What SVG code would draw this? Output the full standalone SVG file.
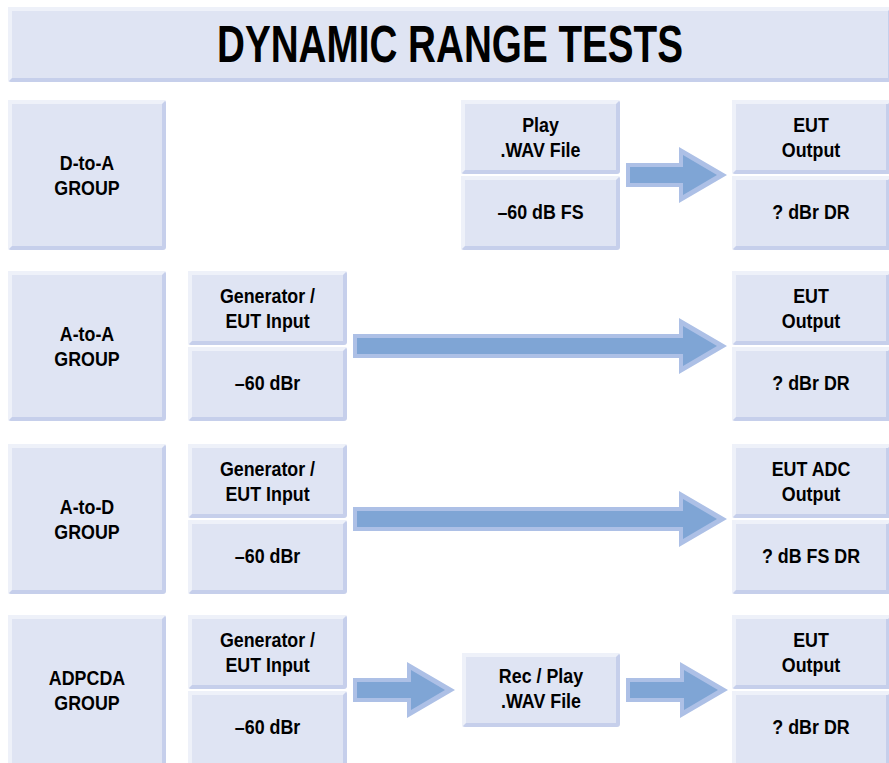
<svg xmlns="http://www.w3.org/2000/svg" width="889" height="763" viewBox="0 0 889 763">
<style>
.dk{fill:#c6cfeb}
.lt{fill:#eef1f9}
.fc{fill:#dfe4f3}
.ao{fill:#adc0e6}
.ai{fill:#7fa5d5}
text{font-family:"Liberation Sans",Arial,sans-serif;font-weight:bold;fill:#000;text-anchor:middle;font-size:21px}
.title{font-size:51px}
</style>
<rect width="889" height="763" fill="#fff"/>
<g id="title">
<rect class="dk" x="8" y="7" width="884" height="75" rx="3"/>
<path class="lt" d="M8,82 L8,7 L892,7 L888,11 L12,11 L12,78 Z"/>
<rect class="fc" x="12" y="11" width="876" height="67"/>
<text class="title" x="450" y="62" textLength="466" lengthAdjust="spacingAndGlyphs">DYNAMIC RANGE TESTS</text>
</g>

<!-- Row 1 -->
<g id="grp-da">
<rect class="dk" x="8" y="100" width="158" height="150" rx="3"/>
<path class="lt" d="M8,250 L8,100 L166,100 L162,104 L12,104 L12,246 Z"/>
<rect class="fc" x="12" y="104" width="150" height="142"/>
<text transform="translate(87,170) scale(0.85,1)">D-to-A</text><text transform="translate(87,195) scale(0.85,1)">GROUP</text>
</g>
<g id="play-wav">
<rect class="dk" x="461" y="100" width="159" height="74" rx="3"/>
<path class="lt" d="M461,174 L461,100 L620,100 L616,104 L465,104 L465,170 Z"/>
<rect class="fc" x="465" y="104" width="151" height="66"/>
<text transform="translate(540.5,132) scale(0.85,1)">Play</text><text transform="translate(540.5,157) scale(0.85,1)">.WAV File</text>
</g>
<g id="play-level">
<rect class="dk" x="461" y="176" width="159" height="74" rx="3"/>
<path class="lt" d="M461,250 L461,176 L620,176 L616,180 L465,180 L465,246 Z"/>
<rect class="fc" x="465" y="180" width="151" height="66"/>
<text transform="translate(540.5,219) scale(0.85,1)">–60 dB FS</text>
</g>
<g id="eut-out-1">
<rect class="dk" x="732" y="100" width="160" height="74" rx="3"/>
<path class="lt" d="M732,174 L732,100 L892,100 L888,104 L736,104 L736,170 Z"/>
<rect class="fc" x="736" y="104" width="150" height="66"/>
<text transform="translate(811,132) scale(0.85,1)">EUT</text><text transform="translate(811,157) scale(0.85,1)">Output</text>
</g>
<g id="eut-res-1">
<rect class="dk" x="732" y="176" width="160" height="74" rx="3"/>
<path class="lt" d="M732,250 L732,176 L892,176 L888,180 L736,180 L736,246 Z"/>
<rect class="fc" x="736" y="180" width="150" height="66"/>
<text transform="translate(811,219) scale(0.85,1)">? dBr DR</text>
</g>

<!-- Row 2 -->
<g id="grp-aa">
<rect class="dk" x="8" y="271" width="158" height="150" rx="3"/>
<path class="lt" d="M8,421 L8,271 L166,271 L162,275 L12,275 L12,417 Z"/>
<rect class="fc" x="12" y="275" width="150" height="142"/>
<text transform="translate(87,341) scale(0.85,1)">A-to-A</text><text transform="translate(87,366) scale(0.85,1)">GROUP</text>
</g>
<g id="gen-2">
<rect class="dk" x="188" y="271" width="159" height="74" rx="3"/>
<path class="lt" d="M188,345 L188,271 L347,271 L343,275 L192,275 L192,341 Z"/>
<rect class="fc" x="192" y="275" width="151" height="66"/>
<text transform="translate(267.5,303) scale(0.85,1)">Generator /</text><text transform="translate(267.5,328) scale(0.85,1)">EUT Input</text>
</g>
<g id="gen-level-2">
<rect class="dk" x="188" y="347" width="159" height="74" rx="3"/>
<path class="lt" d="M188,421 L188,347 L347,347 L343,351 L192,351 L192,417 Z"/>
<rect class="fc" x="192" y="351" width="151" height="66"/>
<text transform="translate(267.5,390) scale(0.85,1)">–60 dBr</text>
</g>
<g id="eut-out-2">
<rect class="dk" x="732" y="271" width="160" height="74" rx="3"/>
<path class="lt" d="M732,345 L732,271 L892,271 L888,275 L736,275 L736,341 Z"/>
<rect class="fc" x="736" y="275" width="150" height="66"/>
<text transform="translate(811,303) scale(0.85,1)">EUT</text><text transform="translate(811,328) scale(0.85,1)">Output</text>
</g>
<g id="eut-res-2">
<rect class="dk" x="732" y="347" width="160" height="74" rx="3"/>
<path class="lt" d="M732,421 L732,347 L892,347 L888,351 L736,351 L736,417 Z"/>
<rect class="fc" x="736" y="351" width="150" height="66"/>
<text transform="translate(811,390) scale(0.85,1)">? dBr DR</text>
</g>

<!-- Row 3 -->
<g id="grp-ad">
<rect class="dk" x="8" y="444" width="158" height="150" rx="3"/>
<path class="lt" d="M8,594 L8,444 L166,444 L162,448 L12,448 L12,590 Z"/>
<rect class="fc" x="12" y="448" width="150" height="142"/>
<text transform="translate(87,514) scale(0.85,1)">A-to-D</text><text transform="translate(87,539) scale(0.85,1)">GROUP</text>
</g>
<g id="gen-3">
<rect class="dk" x="188" y="444" width="159" height="74" rx="3"/>
<path class="lt" d="M188,518 L188,444 L347,444 L343,448 L192,448 L192,514 Z"/>
<rect class="fc" x="192" y="448" width="151" height="66"/>
<text transform="translate(267.5,476) scale(0.85,1)">Generator /</text><text transform="translate(267.5,501) scale(0.85,1)">EUT Input</text>
</g>
<g id="gen-level-3">
<rect class="dk" x="188" y="520" width="159" height="74" rx="3"/>
<path class="lt" d="M188,594 L188,520 L347,520 L343,524 L192,524 L192,590 Z"/>
<rect class="fc" x="192" y="524" width="151" height="66"/>
<text transform="translate(267.5,563) scale(0.85,1)">–60 dBr</text>
</g>
<g id="eut-adc-3">
<rect class="dk" x="732" y="444" width="160" height="74" rx="3"/>
<path class="lt" d="M732,518 L732,444 L892,444 L888,448 L736,448 L736,514 Z"/>
<rect class="fc" x="736" y="448" width="150" height="66"/>
<text transform="translate(811,476) scale(0.85,1)">EUT ADC</text><text transform="translate(811,501) scale(0.85,1)">Output</text>
</g>
<g id="eut-res-3">
<rect class="dk" x="732" y="520" width="160" height="74" rx="3"/>
<path class="lt" d="M732,594 L732,520 L892,520 L888,524 L736,524 L736,590 Z"/>
<rect class="fc" x="736" y="524" width="150" height="66"/>
<text transform="translate(811,563) scale(0.85,1)">? dB FS DR</text>
</g>

<!-- Row 4 -->
<g id="grp-adpcda">
<rect class="dk" x="8" y="615" width="158" height="152" rx="3"/>
<path class="lt" d="M8,767 L8,615 L166,615 L162,619 L12,619 L12,763 Z"/>
<rect class="fc" x="12" y="619" width="150" height="146"/>
<text transform="translate(87,685) scale(0.85,1)">ADPCDA</text><text transform="translate(87,710) scale(0.85,1)">GROUP</text>
</g>
<g id="gen-4">
<rect class="dk" x="188" y="615" width="159" height="74" rx="3"/>
<path class="lt" d="M188,689 L188,615 L347,615 L343,619 L192,619 L192,685 Z"/>
<rect class="fc" x="192" y="619" width="151" height="66"/>
<text transform="translate(267.5,647) scale(0.85,1)">Generator /</text><text transform="translate(267.5,672) scale(0.85,1)">EUT Input</text>
</g>
<g id="gen-level-4">
<rect class="dk" x="188" y="691" width="159" height="76" rx="3"/>
<path class="lt" d="M188,767 L188,691 L347,691 L343,695 L192,695 L192,763 Z"/>
<rect class="fc" x="192" y="695" width="151" height="70"/>
<text transform="translate(267.5,734) scale(0.85,1)">–60 dBr</text>
</g>
<g id="rec-play">
<rect class="dk" x="462" y="653" width="158" height="74" rx="3"/>
<path class="lt" d="M462,727 L462,653 L620,653 L616,657 L466,657 L466,723 Z"/>
<rect class="fc" x="466" y="657" width="150" height="66"/>
<text transform="translate(541,683) scale(0.85,1)">Rec / Play</text><text transform="translate(541,708) scale(0.85,1)">.WAV File</text>
</g>
<g id="eut-out-4">
<rect class="dk" x="732" y="615" width="160" height="74" rx="3"/>
<path class="lt" d="M732,689 L732,615 L892,615 L888,619 L736,619 L736,685 Z"/>
<rect class="fc" x="736" y="619" width="150" height="66"/>
<text transform="translate(811,647) scale(0.85,1)">EUT</text><text transform="translate(811,672) scale(0.85,1)">Output</text>
</g>
<g id="eut-res-4">
<rect class="dk" x="732" y="691" width="160" height="76" rx="3"/>
<path class="lt" d="M732,767 L732,691 L892,691 L888,695 L736,695 L736,763 Z"/>
<rect class="fc" x="736" y="695" width="150" height="70"/>
<text transform="translate(811,734) scale(0.85,1)">? dBr DR</text>
</g>

<!-- Connectors -->
<g id="connectors">
<polygon class="ao" points="626,163 679,163 679,147 727,175 679,203 679,187 626,187"/>
<polygon class="ai" points="630,167 683,167 683,155 717,175 683,195 683,183 630,183"/>

<polygon class="ao" points="353,334 679,334 679,318 727,346 679,374 679,358 353,358"/>
<polygon class="ai" points="357,338 683,338 683,326 717,346 683,366 683,354 357,354"/>

<polygon class="ao" points="353,507 679,507 679,491 727,519 679,547 679,531 353,531"/>
<polygon class="ai" points="357,511 683,511 683,499 717,519 683,539 683,527 357,527"/>

<polygon class="ao" points="353,678 407,678 407,662 455,690 407,718 407,702 353,702"/>
<polygon class="ai" points="357,682 411,682 411,670 445,690 411,710 411,698 357,698"/>

<polygon class="ao" points="626,678 680,678 680,662 728,690 680,718 680,702 626,702"/>
<polygon class="ai" points="630,682 684,682 684,670 718,690 684,710 684,698 630,698"/>
</g>
</svg>
